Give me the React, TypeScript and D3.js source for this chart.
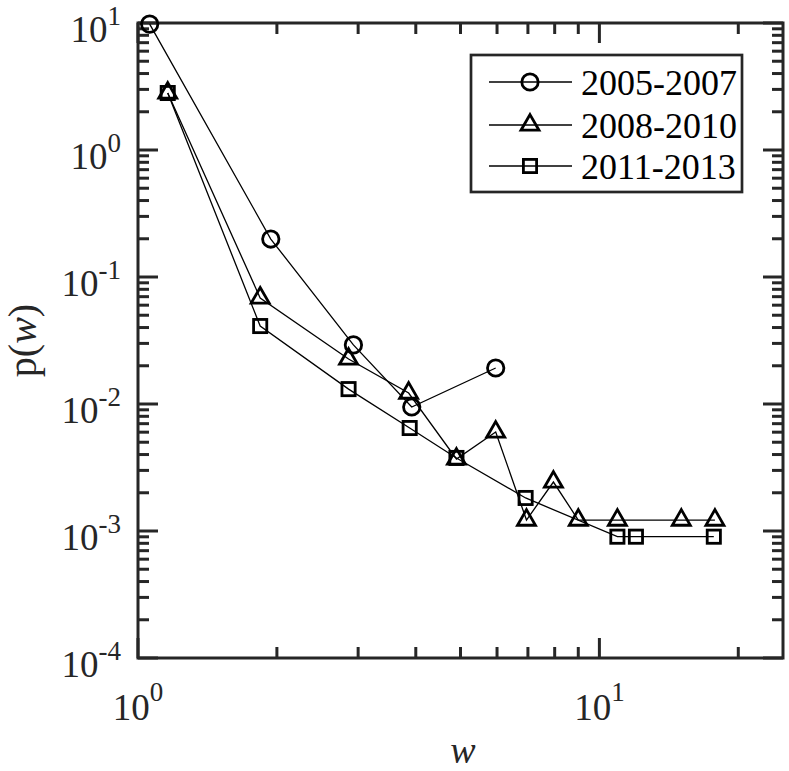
import React from 'react';
import * as d3 from 'd3';

// ---- data ----
const seriesLabels = ['2005-2007', '2008-2010', '2011-2013'];
const wCircle = [1.06, 1.94, 2.93, 3.92, 5.96];
const pCircle = [9.8, 0.199, 0.0292, 0.00947, 0.0192];
const wTriangle = [1.16, 1.84, 2.86, 3.86, 4.9, 5.96, 6.95, 7.95, 9.0, 10.94, 15.05, 17.8];
const pTriangle = [2.81, 0.0684, 0.0226, 0.0122, 0.00369, 0.00602, 0.00122, 0.00243, 0.00122, 0.00122, 0.00122, 0.00122];
const wSquare = [1.16, 1.84, 2.86, 3.88, 4.9, 6.92, 10.94, 12.0, 17.7];
const pSquare = [2.81, 0.0411, 0.0131, 0.00647, 0.00376, 0.00182, 0.000902, 0.000902, 0.000902];
const xTickExps = [0, 1];
const yTickExps = [1, 0, -1, -2, -3, -4];
const xDomain = [1, 25];
const yDomain = [1e-4, 10];

const W = 789;
const H = 771;
const M = { left: 138, right: 783, top: 23, bottom: 658 };
const AX = '#262626';
const FONT = "'Liberation Serif', 'Times New Roman', Times, serif";

type Shape = 'circle' | 'triangle' | 'square';

function Marker({ shape, cx, cy }: { shape: Shape; cx: number; cy: number }) {
  const sw = 2.8;
  if (shape === 'circle') {
    return <circle cx={cx} cy={cy} r={8.2} fill="none" stroke="#000" strokeWidth={sw} />;
  }
  if (shape === 'square') {
    const s = 13.2;
    return <rect x={cx - s / 2} y={cy - s / 2} width={s} height={s} fill="none" stroke="#000" strokeWidth={sw} />;
  }
  const s = 18;
  const h = s * 0.866;
  const p = `M${cx},${cy - (2 * h) / 3} L${cx + s / 2},${cy + h / 3} L${cx - s / 2},${cy + h / 3} Z`;
  return <path d={p} fill="none" stroke="#000" strokeWidth={sw} strokeLinejoin="miter" />;
}

export default function App() {
  const x = d3.scaleLog().domain(xDomain).range([M.left, M.right]);
  const y = d3.scaleLog().domain(yDomain).range([M.bottom, M.top]);

  const series: { w: number[]; p: number[]; shape: Shape }[] = [
    { w: wCircle, p: pCircle, shape: 'circle' },
    { w: wTriangle, p: pTriangle, shape: 'triangle' },
    { w: wSquare, p: pSquare, shape: 'square' },
  ];

  const line = d3
    .line<[number, number]>()
    .x((d) => x(d[0]))
    .y((d) => y(d[1]));

  const xMajor = xTickExps.map((e) => Math.pow(10, e));
  const xMinor: number[] = [];
  for (let e = 0; e <= 1; e++) {
    for (let k = 2; k <= 9; k++) {
      const v = k * Math.pow(10, e);
      if (v <= xDomain[1]) xMinor.push(v);
    }
  }
  const yMajor = yTickExps.map((e) => Math.pow(10, e));
  const yMinor: number[] = [];
  for (let e = -4; e < 1; e++) {
    for (let k = 2; k <= 9; k++) yMinor.push(k * Math.pow(10, e));
  }
  const majLen = 20;
  const minLen = 11;
  const tw = 3;

  const legendRows = [82, 125, 166];

  return (
    <svg
      width={W}
      height={H}
      style={{ position: 'absolute', left: 0, top: 0, background: '#fff', fontFamily: FONT }}
    >
      <rect x={0} y={0} width={W} height={H} fill="#fff" />

      <g stroke={AX} strokeWidth={tw}>
        {xMajor.map((v, i) => (
          <g key={'xM' + i}>
            <line x1={x(v)} x2={x(v)} y1={M.bottom} y2={M.bottom - majLen} />
            <line x1={x(v)} x2={x(v)} y1={M.top} y2={M.top + majLen} />
          </g>
        ))}
        {xMinor.map((v, i) => (
          <g key={'xm' + i}>
            <line x1={x(v)} x2={x(v)} y1={M.bottom} y2={M.bottom - minLen} />
            <line x1={x(v)} x2={x(v)} y1={M.top} y2={M.top + minLen} />
          </g>
        ))}
        {yMajor.map((v, i) => (
          <g key={'yM' + i}>
            <line x1={M.left} x2={M.left + majLen} y1={y(v)} y2={y(v)} />
            <line x1={M.right} x2={M.right - majLen} y1={y(v)} y2={y(v)} />
          </g>
        ))}
        {yMinor.map((v, i) => (
          <g key={'ym' + i}>
            <line x1={M.left} x2={M.left + minLen} y1={y(v)} y2={y(v)} />
            <line x1={M.right} x2={M.right - minLen} y1={y(v)} y2={y(v)} />
          </g>
        ))}
      </g>

      <rect
        x={M.left}
        y={M.top}
        width={M.right - M.left}
        height={M.bottom - M.top}
        fill="none"
        stroke={AX}
        strokeWidth={tw}
      />

      {series.map((s, si) => (
        <g key={'s' + si}>
          <path
            d={line(s.w.map((w, i) => [w, s.p[i]] as [number, number])) || ''}
            fill="none"
            stroke="#000"
            strokeWidth={1.3}
          />
          {s.w.map((w, i) => (
            <Marker key={i} shape={s.shape} cx={x(w)} cy={y(s.p[i])} />
          ))}
        </g>
      ))}

      <g fill={AX} style={{ fontFamily: FONT }}>
        {xTickExps.map((e, i) => (
          <text key={'xl' + i} x={x(Math.pow(10, e))} y={720} textAnchor="middle" fontSize={37}>
            10
            <tspan fontSize={27} dy={-19}>
              {String(e)}
            </tspan>
          </text>
        ))}
        {yTickExps.map((e, i) => (
          <text key={'yl' + i} x={121} y={y(Math.pow(10, e)) + 19} textAnchor="end" fontSize={37}>
            10
            <tspan fontSize={27} dy={-17}>
              {String(e)}
            </tspan>
          </text>
        ))}
      </g>

      <text x={463} y={763} textAnchor="middle" fontSize={38} fontStyle="italic" fill={AX} style={{ fontFamily: FONT }}>
        w
      </text>
      <text
        transform={`translate(36, ${(M.top + M.bottom) / 2}) rotate(-90)`}
        textAnchor="middle"
        fontSize={40}
        fill={AX}
        style={{ fontFamily: FONT }}
      >
        p(<tspan fontStyle="italic">w</tspan>)
      </text>

      <rect x={471} y={55} width={271} height={137} fill="#fff" stroke={AX} strokeWidth={2.7} />
      {seriesLabels.map((lab, i) => (
        <g key={'lg' + i}>
          <line x1={489} x2={572} y1={legendRows[i]} y2={legendRows[i]} stroke="#000" strokeWidth={1.3} />
          <Marker shape={series[i].shape} cx={530} cy={legendRows[i]} />
          <text x={581} y={legendRows[i] + 13} fontSize={36} fill="#000" style={{ fontFamily: FONT }}>
            {lab}
          </text>
        </g>
      ))}
    </svg>
  );
}
